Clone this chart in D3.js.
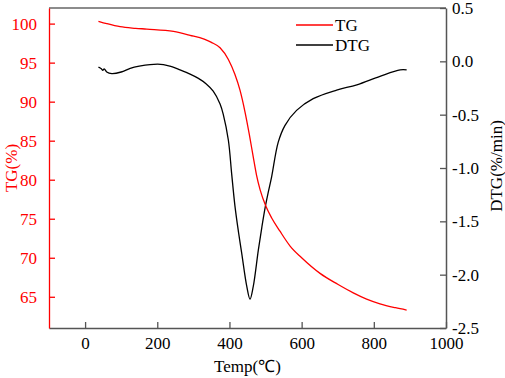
<!DOCTYPE html>
<html>
<head>
<meta charset="utf-8">
<script src="https://cdn.jsdelivr.net/npm/d3@7"></script>
<style>
  body { margin: 0; background: #fff; }
  svg text { font-family: "Liberation Serif", "Times New Roman", serif; }
</style>
</head>
<body>
<div id="chart"></div>
<script>
// Temperature (°C) and TG (%)
const tgTemp = [37, 60, 97, 140, 171, 245, 291, 330, 350, 374, 397, 415, 429, 443, 455, 466, 475, 485, 501, 517, 540, 568, 600, 651, 700, 743, 780, 817, 860, 891];
const tgValues = [100.3, 100.0, 99.6, 99.4, 99.3, 99.0, 98.5, 98.0, 97.6, 96.9, 95.4, 93.5, 91.5, 88.7, 85.8, 82.9, 80.6, 78.7, 76.6, 75.1, 73.4, 71.5, 70.0, 68.0, 66.6, 65.5, 64.7, 64.1, 63.6, 63.3];

// Temperature (°C) and DTG (%/min)
const dtgTemp = [37, 45, 49, 53, 60, 74, 100, 125, 150, 180, 217, 240, 263, 291, 314, 335, 355, 374, 383, 397, 406, 415, 425, 434, 448, 457, 466, 480, 490, 499, 508, 517, 535, 554, 586, 632, 697, 753, 817, 873, 891];
const dtgValues = [-0.055, -0.07, -0.085, -0.07, -0.1, -0.115, -0.1, -0.066, -0.045, -0.03, -0.03, -0.05, -0.08, -0.12, -0.16, -0.21, -0.28, -0.40, -0.5, -0.74, -1.05, -1.35, -1.6, -1.8, -2.11, -2.23, -2.11, -1.77, -1.55, -1.37, -1.22, -1.08, -0.76, -0.6, -0.46, -0.35, -0.27, -0.22, -0.14, -0.08, -0.08];

const xTicks = [0, 200, 400, 600, 800, 1000];
const tgTicks = [65, 70, 75, 80, 85, 90, 95, 100];
const dtgTicks = [-2.5, -2.0, -1.5, -1.0, -0.5, 0.0, 0.5];

const legendItems = [["TG", "#ff0000"], ["DTG", "#000000"]];

const width = 505, height = 378;
const margin = {top: 8, right: 59, bottom: 50, left: 49};
const w = width - margin.left - margin.right;
const h = height - margin.top - margin.bottom;

const fontFamily = '"Liberation Serif", "Times New Roman", serif';

const svg = d3.select("#chart").append("svg")
    .attr("width", width)
    .attr("height", height);

const g = svg.append("g")
    .attr("transform", `translate(${margin.left},${margin.top})`);

// Scales
const x = d3.scaleLinear().domain([-100, 1000]).range([0, w]);
const yTG = d3.scaleLinear().domain([61, 102]).range([h, 0]);
const yDTG = d3.scaleLinear().domain([-2.5, 0.5]).range([h, 0]);

const axisColor = "#555";

// Top frame line
g.append("line")
    .attr("x1", 0).attr("x2", w)
    .attr("y1", 0).attr("y2", 0)
    .attr("stroke", "#666")
    .attr("stroke-width", 1.5);

// Bottom axis
const xAxis = g.append("g")
    .attr("transform", `translate(0,${h})`)
    .call(d3.axisBottom(x).tickValues(xTicks).tickSizeInner(-6).tickSizeOuter(0).tickPadding(9)
        .tickFormat(d3.format("d")));

// Left axis (TG)
const leftAxis = g.append("g")
    .call(d3.axisLeft(yTG).tickValues(tgTicks).tickSizeInner(-6).tickSizeOuter(0).tickPadding(12));

// Right axis (DTG)
const rightAxis = g.append("g")
    .attr("transform", `translate(${w},0)`)
    .call(d3.axisRight(yDTG).tickValues(dtgTicks).tickSizeInner(-6).tickSizeOuter(0).tickPadding(6)
        .tickFormat(d => d3.format(".1f")(d).replace("−", "-")));

[xAxis, leftAxis, rightAxis].forEach(a => {
    a.attr("font-family", fontFamily).attr("font-size", 17);
});
[xAxis, rightAxis].forEach(a => {
    a.select(".domain").attr("stroke", axisColor).attr("stroke-width", 1.5);
    a.selectAll(".tick line").attr("stroke", axisColor).attr("stroke-width", 1.3);
    a.selectAll(".tick text").attr("fill", "#000");
});
leftAxis.select(".domain").attr("stroke", "#ff0000").attr("stroke-width", 1.3);
leftAxis.selectAll(".tick line").attr("stroke", "#ff0000").attr("stroke-width", 1.3);
leftAxis.selectAll(".tick text").attr("fill", "#ff0000");

// Lines
const tgData = tgTemp.map((t, i) => [t, tgValues[i]]);
const dtgData = dtgTemp.map((t, i) => [t, dtgValues[i]]);

g.append("path")
    .datum(dtgData)
    .attr("fill", "none")
    .attr("stroke", "#000")
    .attr("stroke-width", 1.3)
    .attr("d", d3.line().x(d => x(d[0])).y(d => yDTG(d[1])).curve(d3.curveCatmullRom.alpha(0.5)));

g.append("path")
    .datum(tgData)
    .attr("fill", "none")
    .attr("stroke", "#ff0000")
    .attr("stroke-width", 1.3)
    .attr("d", d3.line().x(d => x(d[0])).y(d => yTG(d[1])).curve(d3.curveMonotoneX));

// Legend
const legend = g.append("g")
    .attr("transform", `translate(${w - 150},${17})`);
legendItems.forEach((d, i) => {
    legend.append("line")
        .attr("x1", 0).attr("x2", 37)
        .attr("y1", i * 20).attr("y2", i * 20)
        .attr("stroke", d[1])
        .attr("stroke-width", 1.3);
    legend.append("text")
        .attr("x", 39)
        .attr("y", i * 20)
        .attr("dy", "0.35em")
        .style("font-size", "17px")
        .text(d[0]);
});

// Axis titles
svg.append("text")
    .attr("x", margin.left + w / 2)
    .attr("y", 372)
    .attr("text-anchor", "middle")
    .style("font-size", "17px")
    .text("Temp(℃)");

svg.append("text")
    .attr("transform", `translate(17,${margin.top + h / 2}) rotate(-90)`)
    .attr("text-anchor", "middle")
    .attr("fill", "#ff0000")
    .style("font-size", "17px")
    .text("TG(%)");

svg.append("text")
    .attr("transform", `translate(502,${margin.top + h / 2 - 2}) rotate(-90)`)
    .attr("text-anchor", "middle")
    .style("font-size", "17px")
    .text("DTG(%/min)");
</script>
</body>
</html>
